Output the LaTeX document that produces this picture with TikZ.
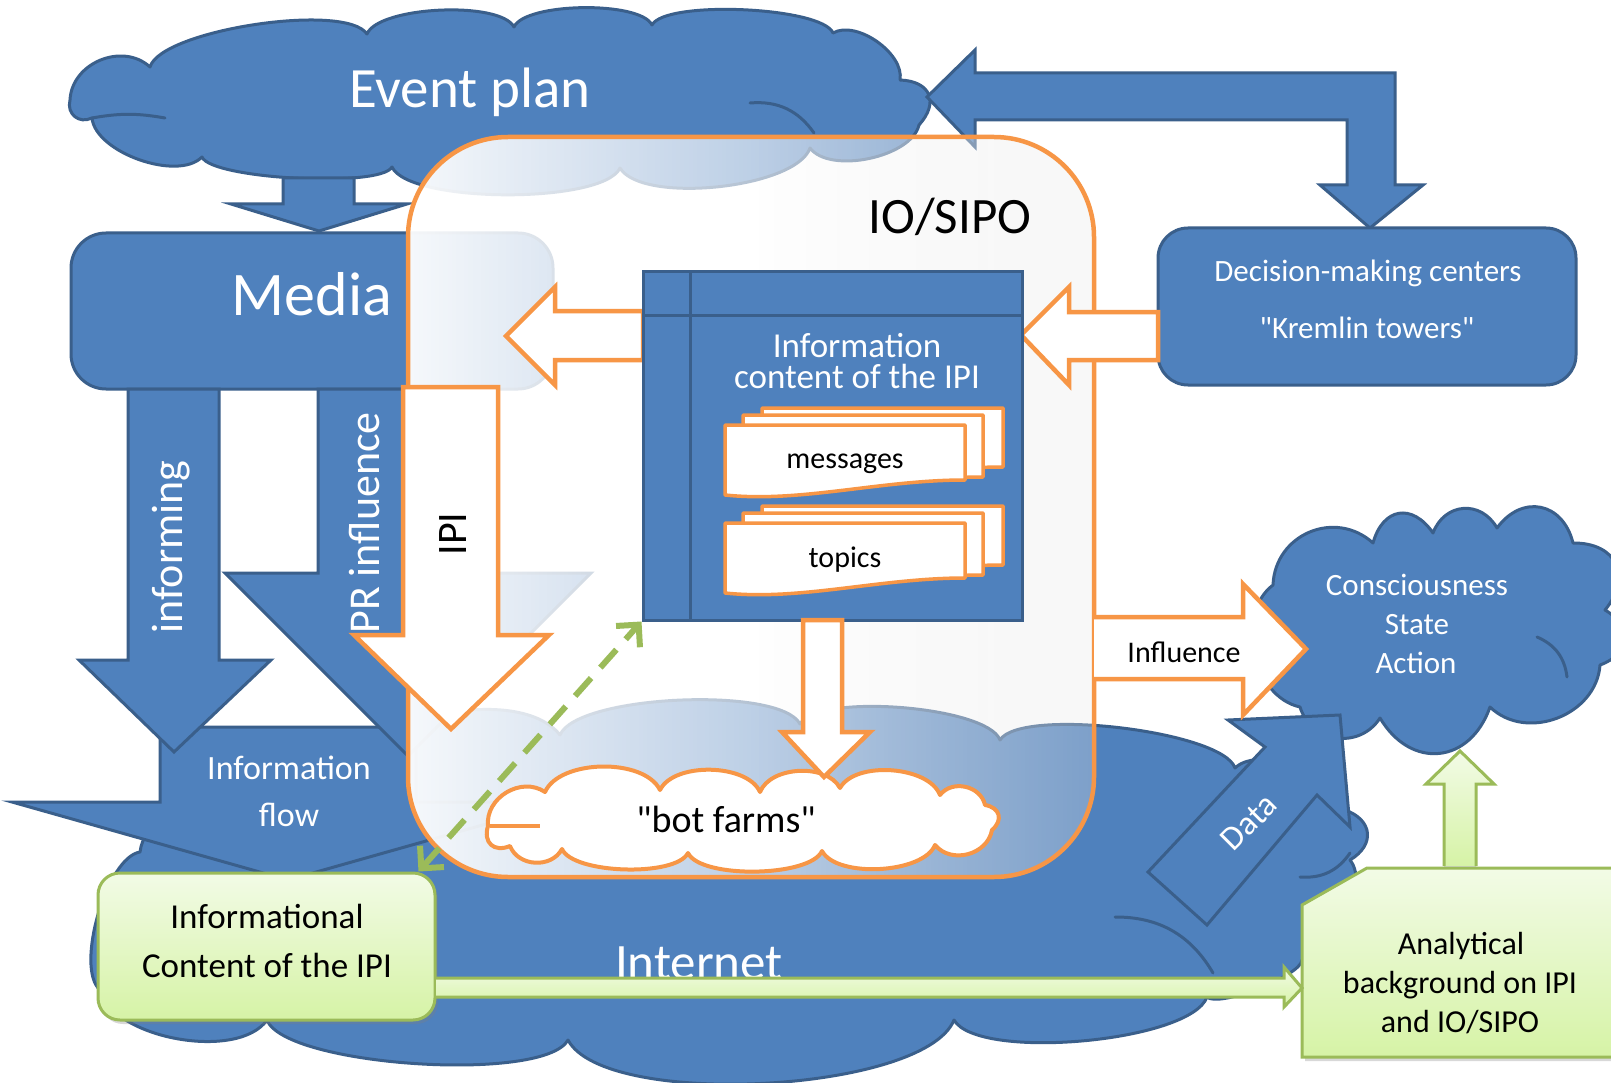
\documentclass[tikz,border=0pt]{standalone}
\usepackage{fontspec}
\setmainfont{Carlito}[Ligatures=TeXOff]
\usetikzlibrary{arrows.meta,fadings,shadows}

\definecolor{ppblue}{HTML}{4F81BD}
\definecolor{ppline}{HTML}{3A5F8B}
\definecolor{pporange}{HTML}{F79646}
\definecolor{ppgreen}{HTML}{9BBB59}
\definecolor{ppgreenhi}{HTML}{F2FBE6}
\definecolor{ppgreenlo}{HTML}{D6F3A6}

\pgfdeclarehorizontalshading{panelshade}{100bp}{color(0bp)=(white); color(50bp)=(white); color(85bp)=(black!12); color(100bp)=(black!35)}
\tikzfading[name=panelfade, left color=transparent!5, right color=transparent!70]

\newcommand{\fs}[1]{\fontsize{#1}{#1}\selectfont}
% one sheet of a document stack: left, right, top, bottom-right
\newcommand{\docpage}[4]{%
  \filldraw[docshape] (#1,#3) -- (#2,#3) -- (#2,#4)
    .. controls ({#2-85},#4) and ({#1+75},{#4+23}) .. (#1,{#4+15}) -- cycle;}

\begin{document}
\begin{tikzpicture}[x=1pt, y=-1pt,
    blueshape/.style={fill=ppblue, draw=ppline, line width=3pt, line join=miter},
    cloudshape/.style={fill=ppblue, draw=ppline, line width=3pt, line join=round},
    cloudline/.style={draw=ppline, line width=3pt, line cap=round},
    orangeshape/.style={fill=white, draw=pporange, line width=4.5pt, line join=miter},
    docshape/.style={fill=white, draw=pporange, line width=3.5pt, line join=round},
    greenshape/.style={top color=ppgreenhi, bottom color=ppgreenlo, draw=ppgreen, line width=3pt},
    pf/.style 2 args={bend left=#1, looseness=#2},
    wlbl/.style={text=white, inner sep=0pt, anchor=base},
    blbl/.style={text=black, inner sep=0pt, anchor=base},
  ]
  \useasboundingbox[fill=white] (0,0) rectangle (1611,1083);

  % ===== Internet cloud =====
  \draw[cloudshape] (100,990) to[pf={65}{0.6}] (140,852) to[pf={65}{0.76}] (330,790)
    to[pf={65}{0.76}] (560,735) to[pf={65}{0.46}] (800,724) to[pf={65}{0.46}] (1000,740)
    to[pf={65}{0.42}] (1235,768) to[pf={65}{0.76}] (1345,810) to[pf={65}{1.5}] (1350,860)
    to[pf={65}{0.76}] (1302,960) to[pf={65}{0.4}] (1207,997) to[pf={65}{0.48}] (954,1020)
    to[pf={65}{0.52}] (568,1040) to[pf={65}{0.42}] (267,1020) to[pf={65}{0.76}] (100,990) -- cycle;
  \draw[cloudline] (1115,917) to[bend left=30] (1213,973);
  \draw[cloudline] (1300,877) to[bend right=30] (1350,853);

  % ===== Event plan cloud =====
  \draw[cloudshape] (70,100) to[pf={65}{1.1}] (150,67) to[pf={65}{0.45}] (367,34)
    to[pf={65}{0.52}] (514,27) to[pf={65}{0.5}] (652,25) to[pf={65}{0.4}] (833,33)
    to[pf={65}{0.84}] (900,80) to[pf={65}{1.6}] (919,125) to[pf={65}{0.76}] (810,148)
    to[pf={65}{0.57}] (620,168) to[pf={65}{0.45}] (392,167) to[pf={65}{0.32}] (202,157)
    to[pf={65}{0.76}] (92,118) to[pf={65}{1.3}] (70,100) -- cycle;
  \draw[cloudline] (92,118) to[bend left=10] (165,118);
  \draw[cloudline] (750,103) to[bend left=30] (814,133);
  \node[wlbl, font=\fs{57}] (eventtxt) at (470,108) {Event plan};

  % Event plan -> Media
  \draw[blueshape] (283,178) -- (354,178) -- (354,204) -- (407,204) -- (319,231)
    -- (231,204) -- (283,204) -- cycle;

  % ===== Media =====
  \node[blueshape, rounded corners=35pt, minimum width=482pt, minimum height=156pt,
        inner sep=0pt] (media) at (312,311) {};
  \node[wlbl, font=\fs{62}] (mediatxt) at (312,316) {Media};

  % Information flow
  \draw[blueshape] (160,727) -- (416,727) -- (416,802) -- (564,802) -- (288,880)
    -- (12,802) -- (160,802) -- cycle;
  \node[wlbl, font=\fs{34}] (flowtxta) at (289,779) {Information};
  \node[wlbl, font=\fs{34}] (flowtxtb) at (289,826) {flow};

  % informing / PR influence
  \draw[blueshape] (128,389) -- (219,389) -- (219,660) -- (271,660) -- (174,752)
    -- (79,660) -- (128,660) -- cycle;
  \node[wlbl, font=\fs{44}, rotate=90] (informtxt) at (182,547) {informing};
  \draw[blueshape] (318,389) -- (498,389) -- (498,573) -- (591,573) -- (408,756)
    -- (225,573) -- (318,573) -- cycle;
  \node[wlbl, font=\fs{44}, rotate=90] (prtxt) at (379,523) {PR influence};

  % ===== Decision-making centers =====
  \draw[blueshape] (927,97) -- (975,50) -- (975,73) -- (1395,73) -- (1395,185)
    -- (1423,185) -- (1370,228) -- (1320,185) -- (1347,185) -- (1347,120)
    -- (975,120) -- (975,147) -- cycle;
  \node[blueshape, rounded corners=30pt, minimum width=418pt, minimum height=157pt,
        inner sep=0pt] (centers) at (1367,306.5) {};
  \node[wlbl, font=\fs{31}] (centtxta) at (1368,282) {Decision-making centers};
  \node[wlbl, font=\fs{31}] (centtxtb) at (1367,338) {"Kremlin towers"};

  % ===== Consciousness cloud =====
  \draw[cloudshape] (1273,585) to[pf={65}{1.2}] (1373,543) to[pf={65}{1.55}] (1433,533)
    to[pf={65}{1.3}] (1497,528) to[pf={65}{1.4}] (1573,543) to[pf={65}{1.5}] (1605,610)
    to[pf={65}{1.5}] (1600,665) to[pf={65}{1.1}] (1490,707) to[pf={65}{1.4}] (1380,718)
    to[pf={65}{1.2}] (1300,707) to[pf={65}{1.0}] (1273,585) -- cycle;
  \draw[cloudline] (1537,637) to[bend left=30] (1567,677);
  \node[wlbl, font=\fs{31}] (csatxta) at (1417,595) {Consciousness};
  \node[wlbl, font=\fs{31}] (csatxtb) at (1417,634) {State};
  \node[wlbl, font=\fs{31}] (csatxtc) at (1416,673) {Action};

  % Data
  \draw[blueshape] (1340,715) -- (1350,827) -- (1317,795) -- (1207,925) -- (1148,872)
    -- (1265,747) -- (1228,720) -- cycle;
  \node[wlbl, anchor=center, font=\fs{34}, rotate=45] (datatxt) at (1249,822) {Data};

  % ===== IO/SIPO panel =====
  \path[shading=panelshade, path fading=panelfade, rounded corners=100pt]
    (408,137) rectangle (1094,877);
  \draw[pporange, line width=4.5pt, rounded corners=100pt] (408,137) rectangle (1094,877);
  \node[blbl, font=\fs{51}] (siptxt) at (950,234) {IO/SIPO};

  % IPI
  \draw[orangeshape] (403,387) -- (498,387) -- (498,635) -- (549,635) -- (451,729)
    -- (354,635) -- (403,635) -- cycle;
  \node[blbl, font=\fs{42}, rotate=90] (ipitxt) at (466,534) {IPI};

  % side arrows of the content box
  \draw[orangeshape] (643,311) -- (555,311) -- (555,287) -- (506,336) -- (555,385)
    -- (555,360) -- (643,360) -- cycle;
  \draw[orangeshape] (1158,312) -- (1069,312) -- (1069,287) -- (1021,335) -- (1069,385)
    -- (1069,360) -- (1158,360) -- cycle;

  % ===== Information content of the IPI =====
  \node[blueshape, minimum width=379pt, minimum height=348pt, inner sep=0pt]
    (content) at (832.5,446) {};
  \draw[ppline, line width=3pt] ([xshift=49pt]content.north west) -- ([xshift=49pt]content.south west);
  \draw[ppline, line width=3pt] (643,315) -- (1022,315);
  \node[wlbl, font=\fs{35}] (conttxta) at (857,357) {Information};
  \node[wlbl, font=\fs{35}] (conttxtb) at (857,388) {content of the IPI};

  % document stacks
  \docpage{762}{1003}{408}{467}
  \docpage{743}{983}{415}{477}
  \docpage{725}{965}{425}{480}
  \node[blbl, font=\fs{30}] (msgtxt) at (845,468) {messages};
  \begin{scope}[shift={(0,98)}]
    \docpage{762}{1003}{408}{467}
    \docpage{743}{983}{415}{477}
    \docpage{725}{965}{425}{480}
  \end{scope}
  \node[blbl, font=\fs{30}] (toptxt) at (845,567) {topics};

  % ===== bot farms =====
  \draw[docshape, line width=4pt] (488,826) to[pf={65}{1.1}] (545,792) to[pf={65}{0.8}] (660,790)
    to[pf={65}{0.8}] (760,792) to[pf={65}{0.9}] (840,788) to[pf={65}{0.8}] (940,795)
    to[pf={65}{1.1}] (985,805) to[pf={65}{1.5}] (992,830) to[pf={65}{1.1}] (935,845)
    to[pf={65}{0.7}] (822,851) to[pf={65}{0.55}] (688,853) to[pf={65}{0.55}] (562,849)
    to[pf={65}{1.1}] (510,846) to[pf={65}{1.5}] (488,826) -- cycle;
  \draw[pporange, line width=3.5pt] (490,826) -- (540,826);
  \node[blbl, font=\fs{38}] (bottxt) at (726,832) {"bot farms"};

  % content -> bot farms
  \draw[orangeshape] (803,620) -- (842,620) -- (842,732) -- (870,732) -- (824,777)
    -- (782,732) -- (803,732) -- cycle;

  % Influence
  \filldraw[orangeshape] (1094,617) -- (1243,617) -- (1243,584) -- (1306,649)
    -- (1243,715) -- (1243,679) -- (1094,679);
  \node[blbl, font=\fs{30}] (influtxt) at (1184,662) {Influence};

  % ===== Internet label and green boxes =====
  \node[wlbl, font=\fs{51}] (nettxt) at (699,979) {Internet};

  \node[greenshape, rounded corners=22pt, minimum width=337pt, minimum height=147pt,
        inner sep=0pt, drop shadow={shadow xshift=3pt, shadow yshift=-4pt, opacity=.3}]
    (icbox) at (266.5,946.5) {};
  \node[blbl, font=\fs{35}] (ictxta) at (267,928) {Informational};
  \node[blbl, font=\fs{35}] (ictxtb) at (267,977) {Content of the IPI};

  \filldraw[greenshape, drop shadow={shadow xshift=3pt, shadow yshift=-4pt, opacity=.3}]
    (1302,905) -- (1367,868) -- (1625,868) -- (1625,1057) -- (1302,1057) -- cycle;
  \node[blbl, font=\fs{32}] (antxta) at (1461,954) {Analytical};
  \node[blbl, font=\fs{32}] (antxtb) at (1460,993) {background on IPI};
  \node[blbl, font=\fs{32}] (antxtc) at (1460,1032) {and IO/SIPO};

  % green arrows
  \filldraw[greenshape] (436,978) -- (1284,978) -- (1284,967) -- (1302,988)
    -- (1284,1007) -- (1284,997) -- (436,997);
  \filldraw[greenshape] (1444,866) -- (1444,784) -- (1426,784) -- (1460,751)
    -- (1494,784) -- (1476,784) -- (1476,866);

  % dashed link
  \draw[ppgreen, line width=6pt, dash pattern=on 24pt off 14pt,
        {Straight Barb[length=16pt,width=32pt]}-{Straight Barb[length=16pt,width=32pt]}]
    (icbox.north east) ++(-18pt,0) -- (content.south west);

\end{tikzpicture}
\end{document}
